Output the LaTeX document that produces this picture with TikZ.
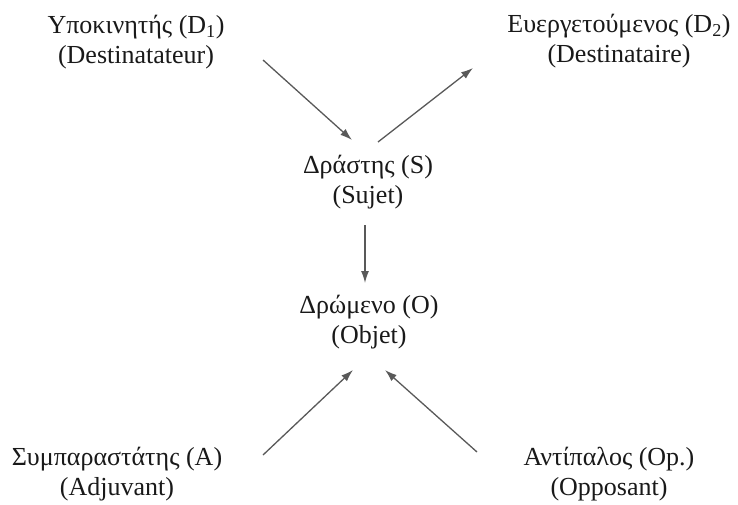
\documentclass[tikz,border=0pt]{standalone}
\usepackage{fontspec}
\setmainfont{Liberation Serif}
\usetikzlibrary{positioning,arrows.meta}

\tikzset{
  actant/.style={align=center, font=\fontsize{26}{30}\selectfont, text=black!90, inner sep=2pt},
  arr/.style={-{Latex[length=12pt,width=8pt]}, draw=black!65, line width=1.3pt},
}

\begin{document}
\begin{tikzpicture}[x=1pt,y=-1pt]
\useasboundingbox (0,0) rectangle (738,504);
% actants
\node[actant] (d1) at (136,42) {Υποκινητής (D\textsubscript{1})\\(Destinatateur)};
\node[actant] (d2) at (619,41) {Ευεργετούμενος (D\textsubscript{2})\\(Destinataire)};
\node[actant] (s) at (368,182) {Δράστης (S)\\(Sujet)};
\node[actant] (o) at (369,322) {Δρώμενο (O)\\(Objet)};
\node[actant] (a) at (117,474) {Συμπαραστάτης (A)\\(Adjuvant)};
\node[actant] (op) at (609,474) {Αντίπαλος (Op.)\\(Opposant)};
% arrow ends
\coordinate[below right=18pt and 127pt of d1.center] (d1out);
\coordinate[above left=42pt and 16pt of s.center] (sin);
\coordinate[above right=40pt and 10pt of s.center] (sout);
\coordinate[below left=27pt and 146pt of d2.center] (d2in);
\coordinate[below left=43pt and 3pt of s.center] (sdown);
\coordinate[above left=39pt and 4pt of o.center] (otop);
\coordinate[below left=48pt and 16pt of o.center] (oleft);
\coordinate[below right=48pt and 16pt of o.center] (oright);
\coordinate[above right=19pt and 146pt of a.center] (aout);
\coordinate[above left=22pt and 132pt of op.center] (opout);
\draw[arr] (d1out) -- (sin);
\draw[arr] (sout) -- (d2in);
\draw[arr] (sdown) -- (otop);
\draw[arr] (aout) -- (oleft);
\draw[arr] (opout) -- (oright);
\end{tikzpicture}
\end{document}
